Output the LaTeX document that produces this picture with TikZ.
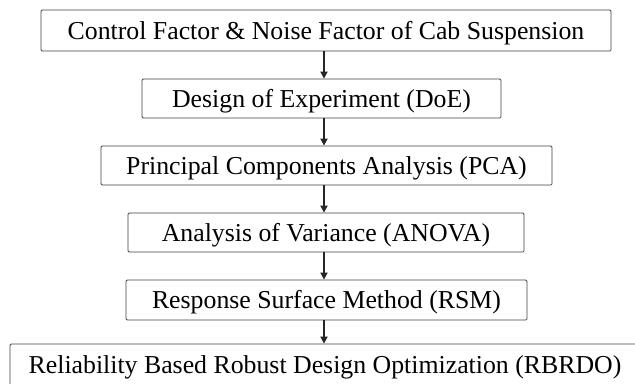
\documentclass[tikz,border=0pt]{standalone}
\usepackage{fontspec}
\setmainfont{Liberation Serif}
\usetikzlibrary{arrows.meta}

\begin{document}
\begin{tikzpicture}[x=1bp, y=-1bp,
  stepbox/.style={draw=black!75, line width=0.8bp, rounded corners=1.2bp, inner sep=0pt,
    font=\fontsize{25.8bp}{30bp}\selectfont, text height=17bp, text depth=0pt},
  flow/.style={-{Triangle[length=7bp,width=7bp]}, line width=2bp, black!85}]

\useasboundingbox (0,0) rectangle (635,383);

% ── Process steps, top to bottom ──
\node[stepbox, minimum width=570bp, minimum height=41bp] (factors) at (326, 30.5)
  {Control Factor \& Noise Factor of Cab Suspension};
\node[stepbox, minimum width=359bp, minimum height=39bp] (doe) at (321.5, 98.5)
  {Design of Experiment (DoE)};
\node[stepbox, minimum width=451bp, minimum height=39bp] (pca) at (326.5, 165.5)
  {Principal Components Analysis (PCA)};
\node[stepbox, minimum width=396bp, minimum height=39bp] (anova) at (326, 232.5)
  {Analysis of Variance (ANOVA)};
\node[stepbox, minimum width=401bp, minimum height=40bp] (rsm) at (326.5, 300)
  {Response Surface Method (RSM)};
% last box runs past the right and bottom edges
\node[stepbox, minimum width=630bp, minimum height=42bp] (rbrdo) at (325, 365)
  {Reliability Based Robust Design Optimization (RBRDO)};

% ── Arrows, all on one vertical line ──
\coordinate (axis) at (324, 0);
\draw[flow] (factors.south -| axis) -- (doe.north -| axis);
\draw[flow] (doe.south -| axis) -- (pca.north -| axis);
\draw[flow] (pca.south -| axis) -- (anova.north -| axis);
\draw[flow] (anova.south -| axis) -- (rsm.north -| axis);
\draw[flow] (rsm.south -| axis) -- (rbrdo.north -| axis);

\end{tikzpicture}
\end{document}
